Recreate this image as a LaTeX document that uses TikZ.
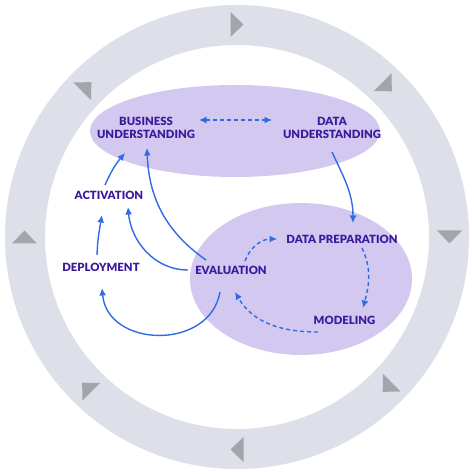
\documentclass[tikz,border=0pt]{standalone}
\usepackage{fontspec}
\setmainfont{Lato}
\newfontfamily\phasefont{Lato Black}
\usetikzlibrary{arrows.meta}
\definecolor{ringgray}{HTML}{DDE0E8}
\definecolor{tickgray}{HTML}{A3A5AA}
\definecolor{phasefill}{HTML}{D2C8F0}
\definecolor{phasetext}{HTML}{3A1A9C}
\definecolor{flowblue}{HTML}{2F6BE3}

\begin{document}
\begin{tikzpicture}[x=1pt, y=1pt,
  phase/.style={text=phasetext, font=\fontsize{11.3}{13}\phasefont, align=center, inner sep=0pt},
  flow/.style={flowblue, line width=1.4pt, -{Latex[length=7.5pt,width=7pt]}},
  loopflow/.style={flow, dash pattern=on 4pt off 3pt}]
  \useasboundingbox (0,0) rectangle (474,474);

  % Outer cycle ring
  \draw[ringgray, line width=40pt] (237,237) circle (212);
  \foreach \a in {90,45,...,-225}
    \fill[tickgray, shift={(237,237)}, rotate=\a] (200,6.5) -- (225,6.5) -- (212.5,-6.5) -- cycle;

  % Phase groups
  \fill[phasefill] (235,343) ellipse (145 and 46);
  \fill[phasefill] (301,195) ellipse (111 and 76);

  % Phases
  \node[phase] (bu) at (146,346.5) {BUSINESS\\UNDERSTANDING};
  \node[phase] (du) at (332,346.5) {DATA\\UNDERSTANDING};
  \node[phase] (act) at (109,279) {ACTIVATION};
  \node[phase] (dep) at (101,207) {DEPLOYMENT};
  \node[phase] (eval) at (231,204) {EVALUATION};
  \node[phase] (prep) at (342,235) {DATA PREPARATION};
  \node[phase] (mod) at (344.5,154) {MODELING};

  % Main flow
  \draw[loopflow, {Latex[length=7.5pt,width=7pt]}-{Latex[length=7.5pt,width=7pt]}] ([shift={(53,7.5)}]bu.center) -- ([shift={(-60,7.5)}]du.center);
  \draw[flow] ([shift={(0,-24.5)}]du.center) to[out=-65, in=90] ([shift={(11,16)}]prep.center);
  \draw[flow] ([shift={(-25,10)}]eval.center) to[out=145, in=-88] ([shift={(1,-20.5)}]bu.center);
  \draw[flow] ([shift={(-4,10)}]act.center) to[bend left=8] ([shift={(-21,-25.5)}]bu.center);
  \draw[flow] ([shift={(-43,0)}]eval.center) to[out=180, in=-85] ([shift={(19,-12)}]act.center);
  \draw[flow] ([shift={(-4,12)}]dep.center) to[out=88, in=-100] ([shift={(-7,-20)}]act.center);
  \draw[flow] ([shift={(-11,-22)}]eval.center) to[out=-100, in=-85, looseness=1.3] ([shift={(1,-21)}]dep.center);

  % Modeling loop
  \draw[loopflow] ([shift={(14,9)}]eval.center) to[out=70, in=180] ([shift={(-65,0)}]prep.center);
  \draw[loopflow] ([shift={(20,-9)}]prep.center) to[out=-65, in=75] ([shift={(18.5,12)}]mod.center);
  \draw[loopflow] ([shift={(-26.5,-12)}]mod.center) to[out=180, in=-60] ([shift={(4,-22)}]eval.center);
\end{tikzpicture}
\end{document}
